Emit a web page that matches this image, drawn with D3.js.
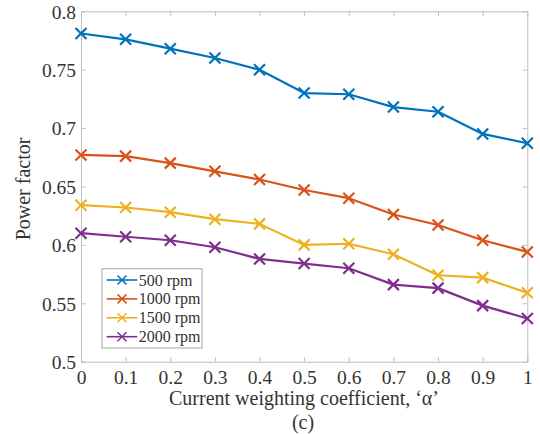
<!DOCTYPE html>
<html>
<head>
<meta charset="utf-8">
<script src="https://cdn.jsdelivr.net/npm/d3@7"></script>
<style>
  html, body { margin: 0; padding: 0; background: #fff; }
  svg, svg text { font-family: 'Liberation Serif', 'Times New Roman', serif !important; }
  svg { display: block; }
</style>
</head>
<body>
<svg id="chart" width="540" height="434"></svg>
<script>
// Power factor versus current weighting coefficient at four speeds
const alphas = [0, 0.1, 0.2, 0.3, 0.4, 0.5, 0.6, 0.7, 0.8, 0.9, 1];
const seriesNames = ["500 rpm", "1000 rpm", "1500 rpm", "2000 rpm"];
const seriesColors = ["#0072BD", "#D95319", "#EDB120", "#7E2F8E"];
const pf500  = [0.781, 0.776, 0.768, 0.760, 0.750, 0.730, 0.729, 0.718, 0.714, 0.695, 0.687];
const pf1000 = [0.677, 0.676, 0.670, 0.663, 0.656, 0.647, 0.640, 0.626, 0.617, 0.604, 0.594];
const pf1500 = [0.634, 0.632, 0.628, 0.622, 0.618, 0.600, 0.601, 0.592, 0.574, 0.572, 0.559];
const pf2000 = [0.610, 0.607, 0.604, 0.598, 0.588, 0.584, 0.580, 0.566, 0.563, 0.548, 0.537];
const xTicks = [0, 0.1, 0.2, 0.3, 0.4, 0.5, 0.6, 0.7, 0.8, 0.9, 1];
const yTicks = [0.5, 0.55, 0.6, 0.65, 0.7, 0.75, 0.8];

const seriesValues = [pf500, pf1000, pf1500, pf2000];

const svg = d3.select("#chart");
const margin = { left: 81, top: 11.3, right: 540 - 527.3, bottom: 434 - 361.7 };
const W = 540 - margin.left - margin.right;
const H = 434 - margin.top - margin.bottom;

const x = d3.scaleLinear().domain([0, 1]).range([margin.left, margin.left + W]);
const y = d3.scaleLinear().domain([0.5, 0.8]).range([margin.top + H, margin.top]);

const axisColor = "#bdbdbd";
const textColor = "#333333";
const tickLen = 4.5;

const fmt = v => (v === 0 ? "0" : v === 1 ? "1" : String(+v.toFixed(2)));

// Box axes with inward ticks
const gx = svg.append("g").attr("transform", `translate(0,${margin.top + H})`)
  .call(d3.axisBottom(x).tickValues(xTicks).tickSizeInner(-tickLen).tickSizeOuter(0).tickPadding(8).tickFormat(fmt));
const gxTop = svg.append("g").attr("transform", `translate(0,${margin.top})`)
  .call(d3.axisTop(x).tickValues(xTicks).tickSizeInner(-tickLen).tickSizeOuter(0).tickFormat(""));
const gy = svg.append("g").attr("transform", `translate(${margin.left},0)`)
  .call(d3.axisLeft(y).tickValues(yTicks).tickSizeInner(-tickLen).tickSizeOuter(0).tickPadding(5).tickFormat(fmt));
const gyRight = svg.append("g").attr("transform", `translate(${margin.left + W},0)`)
  .call(d3.axisRight(y).tickValues(yTicks).tickSizeInner(-tickLen).tickSizeOuter(0).tickFormat(""));

[gx, gxTop, gy, gyRight].forEach(g => {
  g.attr("font-family", null).attr("font-size", null);
  g.select(".domain").attr("stroke", axisColor).attr("stroke-width", 1);
  g.selectAll(".tick line").attr("stroke", axisColor).attr("stroke-width", 1);
  g.selectAll(".tick text").attr("fill", textColor).attr("font-size", 19.5);
});
gx.selectAll(".tick text").attr("dy", "0.71em");
gy.selectAll(".tick text").attr("dy", "0.35em");

// Series lines and cross markers
const line = d3.line().x((d, i) => x(alphas[i])).y(d => y(d));
const plot = svg.append("g");
const mk = 5.5;
seriesValues.forEach((vals, s) => {
  plot.append("path").datum(vals)
    .attr("d", line).attr("fill", "none")
    .attr("stroke", seriesColors[s]).attr("stroke-width", 2.2)
    .attr("stroke-linejoin", "round");
  plot.selectAll(null).data(vals).enter().append("path")
    .attr("d", (d, i) => {
      const cx = x(alphas[i]), cy = y(d);
      return `M${cx - mk},${cy - mk}L${cx + mk},${cy + mk}M${cx - mk},${cy + mk}L${cx + mk},${cy - mk}`;
    })
    .attr("stroke", seriesColors[s]).attr("stroke-width", 2.2).attr("fill", "none");
});

// Axis titles
svg.append("text")
  .attr("x", 304).attr("y", 404.5)
  .attr("text-anchor", "middle").attr("font-size", 20).attr("fill", textColor)
  .text("Current weighting coefficient, \u2018\u03b1\u2019");
svg.append("text")
  .attr("x", 303).attr("y", 429)
  .attr("text-anchor", "middle").attr("font-size", 20).attr("fill", textColor)
  .text("(c)");
svg.append("text")
  .attr("transform", `translate(30,189) rotate(-90)`)
  .attr("text-anchor", "middle").attr("font-size", 20).attr("fill", textColor)
  .text("Power factor");

// Legend
const lg = svg.append("g").attr("transform", "translate(102,268.7)");
lg.append("rect").attr("width", 100).attr("height", 79.3)
  .attr("fill", "#fff").attr("stroke", "#a6a6a6").attr("stroke-width", 1);
seriesNames.forEach((name, s) => {
  const ey = 11.3 + s * 18.9;
  lg.append("line").attr("x1", 4.7).attr("x2", 35.3).attr("y1", ey).attr("y2", ey)
    .attr("stroke", seriesColors[s]).attr("stroke-width", 1.6);
  const cx = 20, m = 4.5;
  lg.append("path")
    .attr("d", `M${cx - m},${ey - m}L${cx + m},${ey + m}M${cx - m},${ey + m}L${cx + m},${ey - m}`)
    .attr("stroke", seriesColors[s]).attr("stroke-width", 1.5);
  lg.append("text").attr("x", 36.7).attr("y", ey).attr("dy", "0.35em")
    .attr("font-size", 16).attr("fill", textColor).text(name);
});
</script>
</body>
</html>
